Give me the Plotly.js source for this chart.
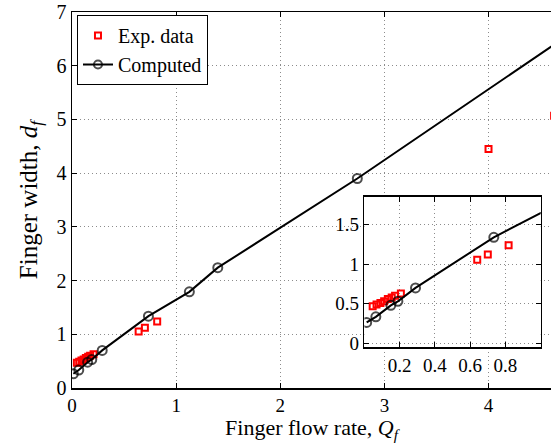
<!DOCTYPE html>
<html>
<head>
<meta charset="utf-8">
<script src="https://cdn.plot.ly/plotly-3.0.1.min.js"></script>
<style>html,body{margin:0;padding:0;background:#fff;}#chart{width:551px;height:443px;}</style>
</head>
<body>
<div id="chart"></div>
<script>
// Experimental data
var expX = [0.047, 0.069, 0.091, 0.112, 0.133, 0.155, 0.174, 0.207, 0.64, 0.70, 0.818, 4.0, 4.63];
var expY = [0.47, 0.49, 0.51, 0.53, 0.56, 0.58, 0.60, 0.63, 1.054, 1.12, 1.236, 4.45, 5.07];
// Computed points (markers) and the curve continuing past the last marker
var compX = [0.013, 0.065, 0.15, 0.19, 0.29, 0.734, 1.127, 1.40, 2.74, 4.65];
var compY = [0.265, 0.335, 0.48, 0.53, 0.70, 1.337, 1.79, 2.24, 3.90, 6.42];
var compHasMarker = [1, 1, 1, 1, 1, 1, 1, 1, 1, 0];
var mainXTicks = [0, 1, 2, 3, 4];
var mainYTicks = [0, 1, 2, 3, 4, 5, 6, 7];
var insetXTicks = [0.2, 0.4, 0.6, 0.8];
var insetYTicks = [0, 0.5, 1, 1.5];

var serif = 'Liberation Serif, Times New Roman, serif';
var markerSizes = compHasMarker.map(function(m){ return m ? 9 : 0; });

var traces = [
  {x: expX, y: expY, mode: 'markers', name: 'Exp. data', xaxis: 'x', yaxis: 'y',
   marker: {symbol: 'square-open', size: 6, color: '#ff0000', line: {width: 2, color: '#ff0000'}}},
  {x: compX, y: compY, mode: 'lines+markers', name: 'Computed', xaxis: 'x', yaxis: 'y',
   line: {color: '#000', width: 2},
   marker: {symbol: 'circle-open', size: markerSizes, color: '#000', line: {width: 2, color: '#000'}}},
  {x: expX, y: expY, mode: 'markers', showlegend: false, xaxis: 'x2', yaxis: 'y2',
   marker: {symbol: 'square-open', size: 6, color: '#ff0000', line: {width: 2, color: '#ff0000'}}},
  {x: compX, y: compY, mode: 'lines+markers', showlegend: false, xaxis: 'x2', yaxis: 'y2',
   line: {color: '#000', width: 2},
   marker: {symbol: 'circle-open', size: markerSizes, color: '#000', line: {width: 2, color: '#000'}}}
];

var axisCommon = {
  showgrid: true, gridcolor: '#8c8c8c', griddash: '1px,3px', gridwidth: 1,
  zeroline: false, showline: true, linecolor: '#000', linewidth: 1.5,
  ticks: 'inside', ticklen: 5, tickcolor: '#000', tickwidth: 1
};

var layout = {
  width: 551, height: 443,
  margin: {l: 72, r: 0, t: 12, b: 55},
  paper_bgcolor: '#fff', plot_bgcolor: '#fff',
  font: {family: serif, color: '#000'},
  showlegend: true,
  legend: {x: 0.0104, y: 0.992, xanchor: 'left', yanchor: 'top',
           bgcolor: '#fff', bordercolor: '#000', borderwidth: 1,
           font: {family: serif, size: 20, color: '#000'}, tracegroupgap: 0},
  xaxis: Object.assign({}, axisCommon, {
    domain: [0, 1], range: [0, 4.6], tickvals: mainXTicks, mirror: 'ticks',
    tickfont: {family: serif, size: 19},
    title: {text: 'Finger flow rate, <i>Q</i><sub><i>f</i></sub>', font: {family: serif, size: 22}}
  }),
  yaxis: Object.assign({}, axisCommon, {
    domain: [0, 1], range: [0, 7], tickvals: mainYTicks, mirror: false,
    tickfont: {family: serif, size: 20},
    title: {text: 'Finger width, <i>d</i><sub><i>f</i></sub>', font: {family: serif, size: 25}, standoff: 12}
  }),
  xaxis2: Object.assign({}, axisCommon, {
    domain: [0.6104, 0.9785], range: [0, 1], tickvals: insetXTicks, mirror: 'ticks',
    anchor: 'y2', tickfont: {family: serif, size: 19}
  }),
  yaxis2: Object.assign({}, axisCommon, {
    domain: [0.108, 0.509], range: [-0.05, 1.85], tickvals: insetYTicks, mirror: 'ticks',
    anchor: 'x2', tickfont: {family: serif, size: 19}
  })
};

Plotly.newPlot('chart', traces, layout, {displayModeBar: false, staticPlot: true});
</script>
</body>
</html>
